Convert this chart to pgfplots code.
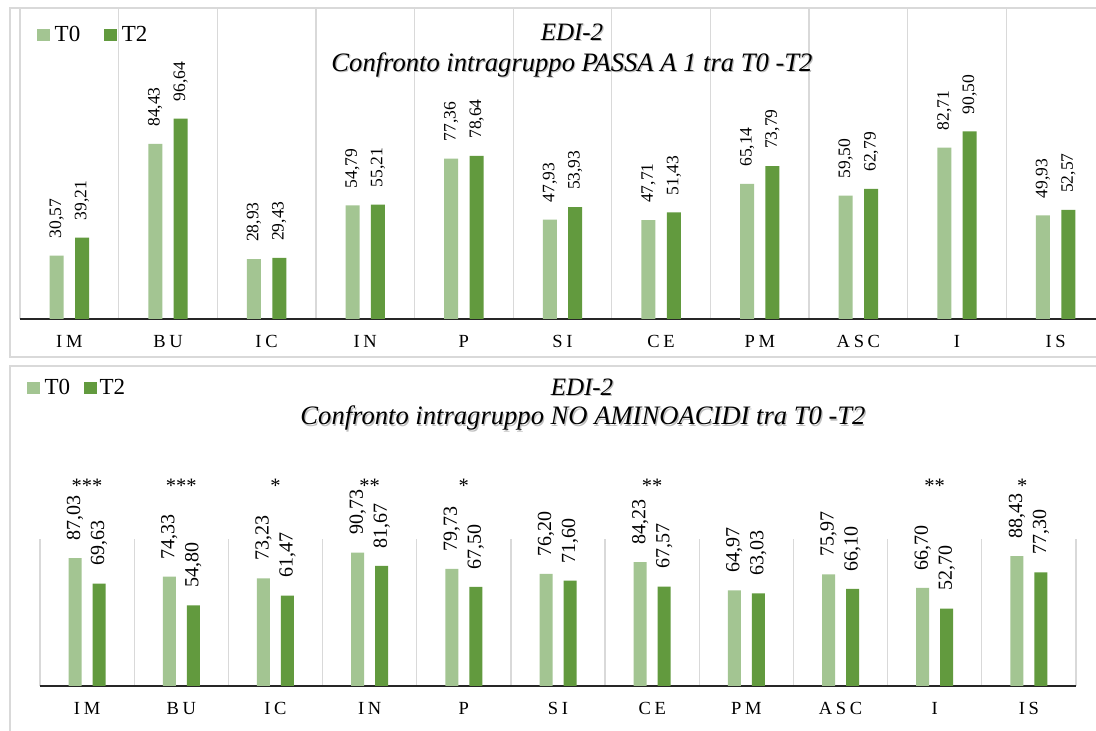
\documentclass[border=0pt]{standalone}
\usepackage{fontspec}
\setmainfont{Liberation Serif}
\newfontfamily\tickfont[LetterSpace=20]{Liberation Serif}
\usepackage{pgfplots}
\pgfplotsset{compat=1.18}
\definecolor{lg}{HTML}{A3C592}
\definecolor{dg}{HTML}{629A3E}
\definecolor{fr}{HTML}{D9D9D9}

\pgfplotsset{
  sq legend/.style={legend image code/.code={\fill[##1] (0pt,-6pt) rectangle (12.5pt,6pt);}},
  edibase/.style={
    scale only axis, xmin=-0.5, xmax=10.5, ymin=0,
    axis x line*=bottom, axis y line=none,
    x axis line style={black!85, line width=1.3pt},
    xtick={0,1,2,3,4,5,6,7,8,9,10},
    xticklabels={IM,BU,IC,IN,P,SI,CE,PM,ASC,I,IS},
    minor xtick={-0.5,0.5,1.5,2.5,3.5,4.5,5.5,6.5,7.5,8.5,9.5,10.5},
    xminorgrids=true, minor grid style={fr, line width=1.3pt},
    major tick length=0pt, minor tick length=0pt,
    xticklabel style={font=\tickfont\fontsize{18.5}{20}\selectfont, anchor=base, yshift=-29pt},
    clip=false,
    /pgf/number format/.cd, fixed, fixed zerofill, precision=2, use comma, assume math mode=true,
    /pgfplots/.cd,
    nodes near coords,
    legend columns=-1,
  },
}

\begin{document}
\begin{tikzpicture}
\useasboundingbox (0,0) rectangle (1096pt,731pt);
\clip (0,0) rectangle (1096pt,731pt);
\fill[white] (0,0) rectangle (1096pt,731pt);
\draw[fr, line width=1.5pt] (10pt,374pt) rectangle (1130pt,723pt);
\draw[fr, line width=1.5pt] (10pt,-30pt) rectangle (1130pt,365pt);

% ---------------- top chart
\begin{axis}[edibase, at={(20pt,412pt)}, anchor=south west,
  width=1085pt, height=311pt, ymax=150,
  ybar=11.4pt, bar width=14pt,
  nodes near coords style={font=\fontsize{17.5}{20}\selectfont, inner sep=0pt, yshift=17pt, rotate=90, anchor=west},
  legend style={draw=none, fill=none, at={(0.0157,0.913)}, anchor=west, inner sep=0pt,
    font=\fontsize{23}{26}\selectfont, nodes={inner sep=0pt},
    /tikz/every even column/.append style={column sep=24pt}},
  ]
\addplot[fill=lg, draw=none, sq legend] coordinates {
 (0,30.57) (1,84.43) (2,28.93) (3,54.79) (4,77.36) (5,47.93) (6,47.71) (7,65.14) (8,59.50) (9,82.71) (10,49.93)};
\addplot[fill=dg, draw=none, sq legend] coordinates {
 (0,39.21) (1,96.64) (2,29.43) (3,55.21) (4,78.64) (5,53.93) (6,51.43) (7,73.79) (8,62.79) (9,90.50) (10,52.57)};
\legend{\hspace{5pt}T0,\hspace{5pt}T2}
\end{axis}

% ---------------- bottom chart
\begin{axis}[edibase, at={(40pt,45pt)}, anchor=south west,
  width=1036pt, height=147pt, ymax=100,
  ybar=11pt, bar width=13pt,
  nodes near coords style={font=\fontsize{20}{22}\selectfont, inner sep=0pt, yshift=17.5pt, rotate=90, anchor=west},
  legend style={draw=none, fill=none, at={(-0.0126,2.027)}, anchor=west, inner sep=0pt,
    font=\fontsize{23}{26}\selectfont, nodes={inner sep=0pt},
    /tikz/every even column/.append style={column sep=14pt}},
  ]
\addplot[fill=lg, draw=none, sq legend] coordinates {
 (0,87.03) (1,74.33) (2,73.23) (3,90.73) (4,79.73) (5,76.20) (6,84.23) (7,64.97) (8,75.97) (9,66.70) (10,88.43)};
\addplot[fill=dg, draw=none, sq legend] coordinates {
 (0,69.63) (1,54.80) (2,61.47) (3,81.67) (4,67.50) (5,71.60) (6,67.57) (7,63.03) (8,66.10) (9,52.70) (10,77.30)};
\legend{\hspace{5pt}T0,\hspace{3pt}T2}
\begin{scope}[every node/.style={font=\fontsize{20.5}{22}\selectfont, anchor=base, inner sep=0pt}]
\node at (axis cs:0,131.6) {***};
\node at (axis cs:1,131.6) {***};
\node at (axis cs:2,131.6) {*};
\node at (axis cs:3,131.6) {**};
\node at (axis cs:4,131.6) {*};
\node at (axis cs:6,131.6) {**};
\node at (axis cs:9,131.6) {**};
\node at (axis cs:9.93,131.6) {*};
\end{scope}
\end{axis}

% ---------------- titles (with soft shadow)
\begin{scope}[every node/.style={anchor=base, inner sep=0pt}]
\node[text=black!25, font=\itshape\fontsize{25}{27}\selectfont] at (573.2pt,689pt) {EDI-2};
\node[font=\itshape\fontsize{25}{27}\selectfont] at (572pt,690.3pt) {EDI-2};
\node[text=black!25, font=\itshape\fontsize{26.6}{28}\selectfont] at (573.2pt,658pt) {Confronto intragruppo PASSA A 1 tra T0 -T2};
\node[font=\itshape\fontsize{26.6}{28}\selectfont] at (572pt,659.3pt) {Confronto intragruppo PASSA A 1 tra T0 -T2};
\node[text=black!25, font=\itshape\fontsize{25}{27}\selectfont] at (583.2pt,334pt) {EDI-2};
\node[font=\itshape\fontsize{25}{27}\selectfont] at (582pt,335.3pt) {EDI-2};
\node[text=black!25, font=\itshape\fontsize{26.6}{28}\selectfont] at (584.2pt,304.7pt) {Confronto intragruppo NO AMINOACIDI tra T0 -T2};
\node[font=\itshape\fontsize{26.6}{28}\selectfont] at (583pt,306pt) {Confronto intragruppo NO AMINOACIDI tra T0 -T2};
\end{scope}
\end{tikzpicture}
\end{document}
